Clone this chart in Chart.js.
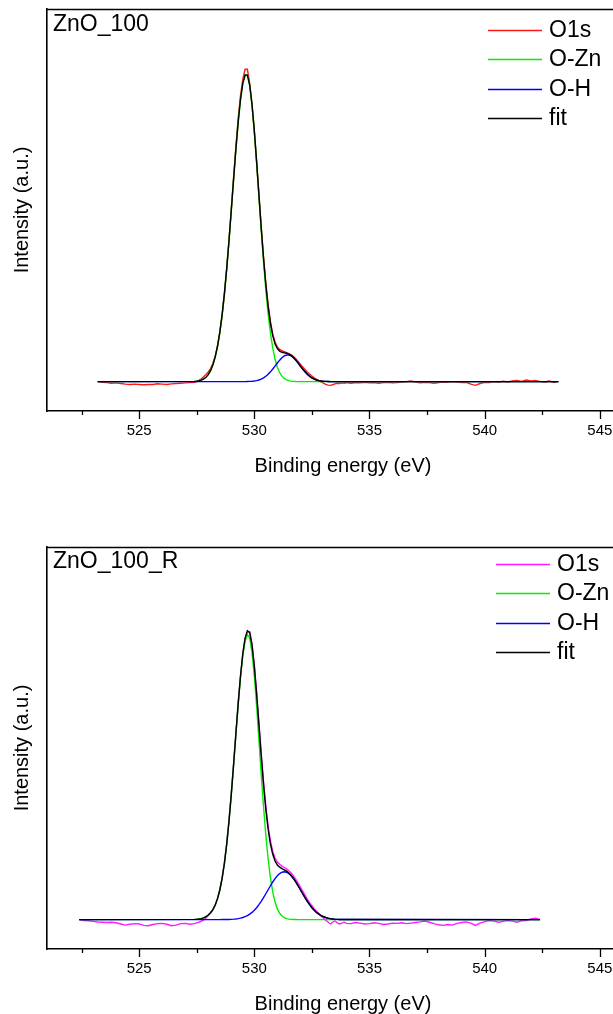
<!DOCTYPE html>
<html>
<head>
<meta charset="utf-8">
<title>O1s XPS spectra</title>
<script src="https://cdn.jsdelivr.net/npm/chart.js@4"></script>
<style>
  html, body { margin: 0; padding: 0; background: #fff; overflow: hidden; }
  #page { position: relative; width: 613px; height: 1014px; overflow: hidden; background: #fff; }
  canvas { position: absolute; left: 0; }
  #c1 { top: 0; }
  #c2 { top: 538px; }
</style>
</head>
<body>
<div id="page">
  <canvas id="c1" width="639" height="480"></canvas>
  <canvas id="c2" width="639" height="480"></canvas>
</div>
<script>
// ---- binding-energy grids (eV) ----
const peakEnergy = [527.4, 527.5, 527.6, 527.7, 527.8, 527.9,
  528.0, 528.1, 528.2, 528.3, 528.4, 528.5, 528.6, 528.7, 528.8, 528.9,
  529.0, 529.1, 529.2, 529.3, 529.4, 529.5, 529.6, 529.7, 529.8, 529.9,
  530.0, 530.1, 530.2, 530.3, 530.4, 530.5, 530.6, 530.7, 530.8, 530.9,
  531.0, 531.1, 531.2, 531.3, 531.4, 531.5, 531.6, 531.7, 531.8, 531.9,
  532.0, 532.1, 532.2, 532.3, 532.4, 532.5, 532.6, 532.7, 532.8, 532.9,
  533.0, 533.1, 533.2, 533.3, 533.4, 533.5, 533.6, 533.7, 533.8, 533.9,
  534.0];

const wingLeftA = [523.2, 523.4, 523.6, 523.8, 524.0, 524.2, 524.4, 524.6, 524.8, 525.0,
  525.2, 525.4, 525.6, 525.8, 526.0, 526.2, 526.4, 526.6, 526.8, 527.0, 527.2];
const wingRightA = [534.2, 534.4, 534.6, 534.8, 535.0, 535.2, 535.4, 535.6, 535.8, 536.0,
  536.2, 536.4, 536.6, 536.8, 537.0, 537.2, 537.4, 537.6, 537.8, 538.0,
  538.2, 538.4, 538.6, 538.8, 539.0, 539.2, 539.4, 539.6, 539.8, 540.0,
  540.2, 540.4, 540.6, 540.8, 541.0, 541.2, 541.4, 541.6, 541.8, 542.0,
  542.2, 542.4, 542.6, 542.8, 543.0, 543.2];

const wingLeftB = [522.4, 522.6, 522.8, 523.0, 523.2, 523.4, 523.6, 523.8, 524.0, 524.2,
  524.4, 524.6, 524.8, 525.0, 525.2, 525.4, 525.6, 525.8, 526.0, 526.2,
  526.4, 526.6, 526.8, 527.0, 527.2];
const wingRightB = [534.2, 534.4, 534.6, 534.8, 535.0, 535.2, 535.4, 535.6, 535.8, 536.0,
  536.2, 536.4, 536.6, 536.8, 537.0, 537.2, 537.4, 537.6, 537.8, 538.0,
  538.2, 538.4, 538.6, 538.8, 539.0, 539.2, 539.4, 539.6, 539.8, 540.0,
  540.2, 540.4, 540.6, 540.8, 541.0, 541.2, 541.4, 541.6, 541.8, 542.0,
  542.2, 542.4];

// x-axis tick positions (labels only on the 5 eV marks)
const xTickValues = [522.5, 525, 527.5, 530, 532.5, 535, 537.5, 540, 542.5, 545];

// ---- ZnO_100 : measured O1s intensity (a.u., baseline = 0) ----
const o1sA_left = [0.0, -0.2, -0.3, -0.5, -0.4, -0.6, -0.8, -0.9, -0.8, -0.9,
  -1.0, -0.9, -0.9, -0.7, -0.8, -0.9, -0.7, -0.6, -0.5, -0.4, -0.3];
const o1sA_peak = [-0.2, 0.0, 0.4, 0.9, 1.6, 2.3,
  3.1, 4.2, 5.8, 8.1, 11.3, 15.6, 21.0, 27.8, 35.9, 45.0,
  55.2, 65.4, 75.3, 84.2, 91.6, 96.8, 100.0, 100.0, 95.3, 88.6,
  80.0, 70.2, 59.8, 49.4, 39.8, 31.5, 24.6, 19.2, 15.2, 12.7,
  11.1, 10.3, 9.9, 9.6, 9.3, 9.0, 8.6, 8.0, 7.3, 6.5,
  5.6, 4.7, 3.9, 3.1, 2.4, 1.8, 1.2, 0.7, 0.3, -0.1,
  -0.5, -0.9, -1.1, -1.2, -1.0, -0.7, -0.5, -0.6, -0.4, -0.5,
  -0.3];
const o1sA_right = [-0.5, -0.3, -0.4, -0.2, -0.4, -0.3, -0.5, -0.3, -0.2, -0.4,
  -0.3, -0.1, 0.0, 0.2, -0.1, -0.4, -0.2, -0.3, -0.5, -0.3,
  -0.1, -0.2, 0.0, -0.1, -0.3, -0.2, -0.8, -1.2, -0.6, -0.2,
  -0.3, 0.0, -0.2, 0.1, -0.1, 0.2, 0.4, 0.1, 0.5, 0.2,
  0.4, 0.1, -0.1, 0.2, -0.2, 0.0];

// ZnO_100 : fitted components on [523.2, peakEnergy..., 543.2]
const oZnA = [0,
  0.09, 0.16, 0.29, 0.50, 0.85, 1.40,
  2.24, 3.50, 5.31, 7.84, 11.25, 15.69, 21.31, 28.12, 36.11, 45.09,
  54.77, 64.71, 74.37, 83.09, 90.31, 95.47, 98.16, 98.09, 94.85, 88.69,
  80.20, 70.12, 59.29, 48.48, 38.33, 29.30, 21.67, 15.49, 10.71, 7.16,
  4.63, 2.90, 1.75, 1.02, 0.58, 0.32, 0.17, 0.08, 0.04, 0.02,
  0, 0, 0, 0, 0, 0, 0, 0, 0, 0,
  0, 0, 0, 0, 0, 0, 0, 0, 0, 0,
  0,
  0];
const oHA = [0,
  0, 0, 0, 0, 0, 0,
  0, 0, 0, 0, 0, 0, 0, 0, 0, 0,
  0, 0, 0, 0, 0, 0.01, 0.02, 0.04, 0.07, 0.12,
  0.21, 0.34, 0.53, 0.81, 1.20, 1.72, 2.37, 3.14, 4.03, 4.99,
  5.97, 6.88, 7.65, 8.22, 8.52, 8.52, 8.22, 7.65, 6.88, 5.97,
  4.99, 4.03, 3.14, 2.37, 1.72, 1.20, 0.81, 0.53, 0.34, 0.21,
  0.12, 0.07, 0.04, 0.02, 0.01, 0, 0, 0, 0, 0,
  0,
  0];
const fitA = [0,
  0.09, 0.16, 0.29, 0.50, 0.85, 1.40,
  2.24, 3.50, 5.31, 7.84, 11.25, 15.69, 21.31, 28.12, 36.11, 45.09,
  54.77, 64.71, 74.37, 83.09, 90.31, 95.48, 98.18, 98.13, 94.92, 88.81,
  80.41, 70.46, 59.82, 49.29, 39.53, 31.02, 24.04, 18.63, 14.74, 12.15,
  10.60, 9.78, 9.40, 9.24, 9.10, 8.84, 8.39, 7.73, 6.92, 5.99,
  4.99, 4.03, 3.14, 2.37, 1.72, 1.20, 0.81, 0.53, 0.34, 0.21,
  0.12, 0.07, 0.04, 0.02, 0.01, 0, 0, 0, 0, 0,
  0,
  0];

// ---- ZnO_100_R : measured O1s intensity ----
const o1sB_left = [0.0, -0.3, -0.4, -0.6, -0.8, -0.9, -1.0, -0.9, -1.1, -1.5,
  -1.9, -1.6, -1.4, -1.5, -2.0, -2.1, -1.7, -1.4, -1.3, -1.6,
  -2.1, -1.9, -1.4, -1.3, -1.6];
const o1sB_peak = [-1.4, -1.1, -0.9, -0.5, -0.1, 0.6,
  1.4, 2.3, 3.5, 5.1, 7.3, 10.3, 14.4, 19.7, 26.4, 34.5,
  43.8, 54.0, 64.6, 75.0, 84.5, 92.2, 97.6, 100.0, 100.0, 95.8,
  88.5, 79.0, 68.4, 57.8, 47.9, 39.4, 32.5, 27.3, 23.7, 21.4,
  20.0, 19.2, 18.6, 18.1, 17.6, 17.0, 16.2, 15.2, 14.0, 12.7,
  11.3, 9.9, 8.5, 7.1, 5.9, 4.8, 3.8, 2.9, 2.1, 1.3,
  0.6, -0.2, -0.8, -1.5, -0.9, -0.4, -1.1, -1.5, -1.2, -0.9,
  -1.3];
const o1sB_right = [-1.4, -1.0, -1.2, -1.5, -1.4, -1.1, -1.3, -1.7, -1.5, -1.2,
  -1.3, -1.1, -1.4, -1.2, -1.0, -0.8, -0.5, -0.9, -1.4, -1.8,
  -2.0, -1.7, -1.9, -1.3, -1.0, -0.8, -1.2, -2.0, -1.2, -0.7,
  -0.3, -0.5, -0.9, -0.6, -0.3, -0.5, -0.9, -0.4, -0.3, 0.2,
  0.5, 0.1];

// ZnO_100_R : fitted components on [522.4, peakEnergy..., 542.4]
const oZnB = [0,
  0.08, 0.13, 0.20, 0.35, 0.60, 1.00,
  1.60, 2.40, 3.50, 5.00, 7.20, 10.20, 14.20, 19.40, 26.00, 34.00,
  43.32, 53.64, 64.33, 74.74, 84.08, 91.64, 96.75, 98.94, 97.74, 92.79,
  84.63, 74.17, 62.45, 50.52, 39.26, 29.32, 21.04, 14.50, 9.60, 6.11,
  3.73, 2.20, 1.24, 0.67, 0.35, 0.18, 0.08, 0.04, 0.02, 0,
  0, 0, 0, 0, 0, 0, 0, 0, 0, 0,
  0, 0, 0, 0, 0, 0, 0, 0, 0, 0,
  0,
  0];
const oHB = [0,
  0, 0, 0, 0, 0, 0,
  0, 0, 0, 0, 0, 0.01, 0.02, 0.03, 0.04, 0.07,
  0.10, 0.16, 0.24, 0.35, 0.51, 0.73, 1.02, 1.41, 1.90, 2.51,
  3.26, 4.15, 5.18, 6.34, 7.62, 8.98, 10.37, 11.76, 13.07, 14.25,
  15.25, 16.00, 16.47, 16.63, 16.47, 16.00, 15.25, 14.25, 13.07, 11.76,
  10.37, 8.98, 7.62, 6.34, 5.18, 4.15, 3.26, 2.51, 1.90, 1.41,
  1.02, 0.73, 0.51, 0.35, 0.24, 0.16, 0.10, 0.07, 0.04, 0.03,
  0.02,
  0];
const fitB = [0,
  0.08, 0.13, 0.20, 0.35, 0.60, 1.00,
  1.60, 2.40, 3.50, 5.00, 7.20, 10.21, 14.22, 19.43, 26.04, 34.07,
  43.42, 53.80, 64.57, 75.09, 84.59, 92.37, 97.77, 100.35, 99.64, 95.30,
  87.89, 78.32, 67.63, 56.86, 46.88, 38.30, 31.41, 26.26, 22.67, 20.36,
  18.98, 18.20, 17.71, 17.30, 16.82, 16.18, 15.33, 14.29, 13.09, 11.76,
  10.37, 8.98, 7.62, 6.34, 5.18, 4.15, 3.26, 2.51, 1.90, 1.41,
  1.02, 0.73, 0.51, 0.35, 0.24, 0.16, 0.10, 0.07, 0.04, 0.03,
  0.02,
  0];

// ---- assembled series ----
const energyA = [...wingLeftA, ...peakEnergy, ...wingRightA];
const o1sA = [...o1sA_left, ...o1sA_peak, ...o1sA_right];
const compEnergyA = [523.2, ...peakEnergy, 543.2];

const energyB = [...wingLeftB, ...peakEnergy, ...wingRightB];
const o1sB = [...o1sB_left, ...o1sB_peak, ...o1sB_right];
const compEnergyB = [522.4, ...peakEnergy, 542.4];

Chart.defaults.font.family = '"Liberation Sans", Arial, Helvetica, sans-serif';
Chart.defaults.color = '#000';

// Frame top edge, outward minor/major ticks, sample name and line legend
const panelDecor = {
  id: 'panelDecor',
  afterDraw(chart, args, opts) {
    const { ctx, chartArea: a, scales: { x } } = chart;
    const fam = Chart.defaults.font.family;
    ctx.save();
    ctx.strokeStyle = '#000';
    ctx.lineWidth = 1.6;
    ctx.beginPath();
    ctx.moveTo(a.left, Math.round(a.top) + 0.5);
    ctx.lineTo(a.right, Math.round(a.top) + 0.5);
    ctx.lineTo(a.right, a.bottom);
    ctx.stroke();

    ctx.lineWidth = 1.3;
    x.ticks.forEach(t => {
      const px = Math.round(x.getPixelForValue(t.value)) + 0.5;
      const len = t.value % 5 === 0 ? 8 : 4;
      ctx.beginPath();
      ctx.moveTo(px, a.bottom);
      ctx.lineTo(px, a.bottom + len);
      ctx.stroke();
    });

    ctx.fillStyle = '#000';
    ctx.textAlign = 'left';
    ctx.textBaseline = 'alphabetic';
    ctx.font = '23px ' + fam;
    ctx.fillText(opts.sample, a.left + 6, a.top + opts.sampleY);

    ctx.font = '23px ' + fam;
    ctx.textBaseline = 'middle';
    chart.data.datasets.forEach((ds, i) => {
      const y = Math.round(a.top + opts.legendTop + i * opts.legendStep) + 0.5;
      ctx.strokeStyle = ds.borderColor;
      ctx.lineWidth = 1.4;
      ctx.beginPath();
      ctx.moveTo(opts.legendX, y);
      ctx.lineTo(opts.legendX + 54, y);
      ctx.stroke();
      ctx.fillStyle = '#000';
      ctx.fillText(ds.label, opts.legendX + 61, y);
    });
    ctx.restore();
  }
};

function series(label, xs, ys, color, order) {
  return {
    label,
    data: xs.map((e, i) => ({ x: e, y: ys[i] })),
    borderColor: color,
    borderWidth: 1.4,
    pointRadius: 0,
    tension: 0,
    fill: false,
    order
  };
}

function buildPanel(id, cfg) {
  return new Chart(document.getElementById(id), {
    type: 'line',
    data: {
      datasets: [
        series('O1s', cfg.energy, cfg.o1s, cfg.dataColor, 4),
        series('O-Zn', cfg.compEnergy, cfg.oZn, '#00ee00', 3),
        series('O-H', cfg.compEnergy, cfg.oH, '#0000ff', 2),
        series('fit', cfg.compEnergy, cfg.fit, '#000000', 1)
      ]
    },
    options: {
      responsive: false,
      animation: false,
      devicePixelRatio: 1,
      layout: { padding: { top: 9, left: 0, right: 0, bottom: 0 } },
      plugins: {
        legend: { display: false },
        tooltip: { enabled: false },
        panelDecor: cfg.decor
      },
      scales: {
        x: {
          type: 'linear',
          min: 521,
          max: 546.7,
          afterBuildTicks: s => { s.ticks = xTickValues.map(v => ({ value: v })); },
          afterFit: s => { s.height = 69; },
          ticks: {
            callback: v => (v % 5 === 0 ? String(v) : ''),
            font: { size: 15 },
            color: '#000',
            padding: 11,
            maxRotation: 0,
            autoSkip: false
          },
          grid: { display: false, drawTicks: false },
          border: { display: true, color: '#000', width: 1.6 },
          title: {
            display: true,
            text: 'Binding energy (eV)',
            font: { size: 20 },
            color: '#000',
            padding: { top: 0, bottom: 2 }
          }
        },
        y: {
          min: cfg.yMin,
          max: cfg.yMax,
          afterFit: s => { s.width = 47; },
          ticks: { display: false },
          grid: { display: false, drawTicks: false },
          border: { display: true, color: '#000', width: 1.6 },
          title: {
            display: true,
            text: 'Intensity (a.u.)',
            font: { size: 20 },
            color: '#000',
            padding: { top: 10, bottom: 0 }
          }
        }
      }
    },
    plugins: [panelDecor]
  });
}

buildPanel('c1', {
  energy: energyA, o1s: o1sA, compEnergy: compEnergyA,
  oZn: oZnA, oH: oHA, fit: fitA,
  dataColor: '#ff1a1a',
  yMin: -9.4, yMax: 119.3,
  decor: { sample: 'ZnO_100', sampleY: 22, legendX: 488, legendTop: 21, legendStep: 29.3 }
});

buildPanel('c2', {
  energy: energyB, o1s: o1sB, compEnergy: compEnergyB,
  oZn: oZnB, oH: oHB, fit: fitB,
  dataColor: '#ff1aff',
  yMin: -10.2, yMax: 129.4,
  decor: { sample: 'ZnO_100_R', sampleY: 21, legendX: 496, legendTop: 17, legendStep: 29.3 }
});
</script>
</body>
</html>
